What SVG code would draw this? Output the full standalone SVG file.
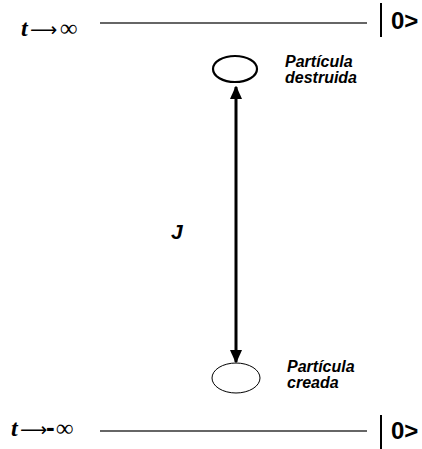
<svg xmlns="http://www.w3.org/2000/svg" width="422" height="449" viewBox="0 0 422 449">
<style>
.t{font-family:"Liberation Serif",serif;font-weight:bold;font-style:italic;font-size:24px;fill:#000}
.ar{font-family:"DejaVu Sans",sans-serif;font-weight:normal;font-style:normal;font-size:19px;fill:#000}
.inf{font-family:"Liberation Serif",serif;font-weight:normal;font-style:italic;font-size:24px;fill:#000}
.dash{font-family:"Liberation Sans",sans-serif;font-weight:bold;font-style:normal;font-size:26px;fill:#000}
.ket{font-family:"Liberation Sans",Arial,sans-serif;font-weight:bold;font-size:24px;fill:#000}
.lbl{font-family:"Liberation Sans",Arial,sans-serif;font-weight:bold;font-style:italic;font-size:16px;fill:#000}
.J{font-family:"Liberation Sans",Arial,sans-serif;font-weight:bold;font-style:italic;font-size:21px;fill:#000}
.ln{stroke:#333;stroke-width:1.3}
.bar{stroke:#000;stroke-width:2}
</style>
<defs>
<marker id="ah" markerWidth="4.5" markerHeight="4" refX="4" refY="2" orient="auto-start-reverse" markerUnits="strokeWidth">
<path d="M0,0 L4.5,2 L0,4 z" fill="#000"/>
</marker>
</defs>
<g id="top-line">
<text y="36" class="t"><tspan x="21">t</tspan><tspan x="30" class="ar">⟶</tspan><tspan x="60" class="inf">∞</tspan></text>
<line x1="100" y1="23" x2="367" y2="23" class="ln"/>
<line x1="381" y1="3" x2="381" y2="37" class="bar"/>
<text x="391" y="29" class="ket">0&gt;</text>
</g>
<g id="bottom-line">
<text y="436" class="t"><tspan x="11">t</tspan><tspan x="20" class="ar" font-size="15">⟶</tspan><tspan x="46" class="dash">-</tspan><tspan x="56" class="inf">∞</tspan></text>
<line x1="100" y1="431" x2="367" y2="431" class="ln"/>
<line x1="381" y1="415" x2="381" y2="449" class="bar"/>
<text x="391" y="439" class="ket">0&gt;</text>
</g>
<g id="destroyed">
<ellipse cx="235" cy="69" rx="22" ry="13" fill="none" stroke="#000" stroke-width="2.2"/>
<text class="lbl"><tspan x="285" y="67">Partícula</tspan><tspan x="285" y="83">destruida</tspan></text>
</g>
<g id="created">
<ellipse cx="236" cy="378" rx="24" ry="15" fill="none" stroke="#000" stroke-width="1"/>
<text class="lbl"><tspan x="287" y="372">Partícula</tspan><tspan x="287" y="388">creada</tspan></text>
</g>
<g id="connectors">
<line x1="236" y1="87" x2="236" y2="362" stroke="#000" stroke-width="3" marker-start="url(#ah)" marker-end="url(#ah)"/>
</g>
<text x="171" y="239" class="J">J</text>
</svg>
